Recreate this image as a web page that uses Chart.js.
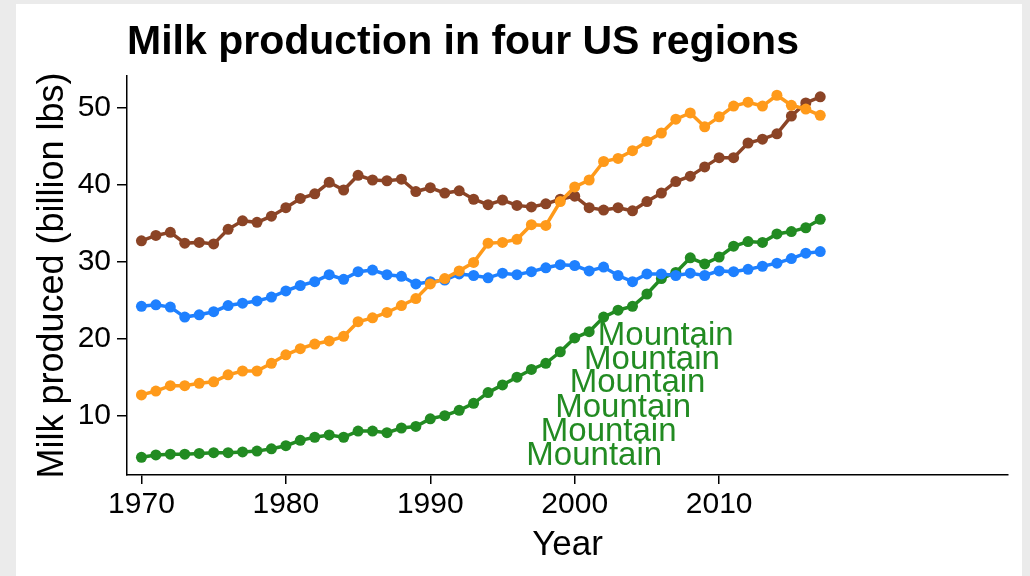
<!DOCTYPE html>
<html>
<head>
<meta charset="utf-8">
<script src="https://cdn.jsdelivr.net/npm/chart.js@4.4.1/dist/chart.umd.min.js"></script>
<style>
  html, body { margin: 0; padding: 0; background: #ebebeb; }
  #panel { position: absolute; left: 16px; top: 4px; width: 1006px; height: 572px; background: #fff; }
</style>
</head>
<body>
<div id="panel"><canvas id="mycanvas" width="1006" height="572"></canvas></div>
<script>
var years = [];
for (var yr = 1970; yr <= 2017; yr++) years.push(yr);

var lakeStates = [32.7, 33.4, 33.8, 32.4, 32.5, 32.3, 34.2, 35.3, 35.1, 35.9,
  37.0, 38.2, 38.8, 40.3, 39.3, 41.2, 40.6, 40.5, 40.7, 39.1,
  39.6, 38.9, 39.2, 38.1, 37.4, 38.0, 37.3, 37.1, 37.5, 38.1,
  38.5, 37.0, 36.7, 37.0, 36.6, 37.8, 38.9, 40.4, 41.1, 42.3,
  43.5, 43.5, 45.4, 45.9, 46.6, 48.9, 50.6, 51.4];
var northeast = [24.2, 24.4, 24.1, 22.8, 23.1, 23.5, 24.3, 24.6, 24.9, 25.4,
  26.2, 26.9, 27.4, 28.3, 27.7, 28.7, 28.9, 28.3, 28.1, 27.1,
  27.4, 27.6, 28.4, 28.2, 27.9, 28.5, 28.3, 28.7, 29.2, 29.6,
  29.5, 28.8, 29.3, 28.2, 27.4, 28.4, 28.4, 28.2, 28.5, 28.2,
  28.8, 28.7, 29.0, 29.4, 29.8, 30.4, 31.1, 31.3];
var pacific = [12.7, 13.2, 13.9, 13.9, 14.2, 14.4, 15.3, 15.8, 15.8, 16.8,
  17.9, 18.7, 19.3, 19.7, 20.3, 22.2, 22.7, 23.4, 24.3, 25.2,
  27.1, 27.8, 28.8, 29.9, 32.4, 32.5, 32.9, 34.8, 34.7, 37.8,
  39.7, 40.6, 43.0, 43.4, 44.4, 45.6, 46.7, 48.5, 49.3, 47.5,
  48.8, 50.2, 50.7, 50.2, 51.6, 50.3, 49.8, 49.0];
var mountain = [4.6, 4.9, 5.0, 5.0, 5.1, 5.2, 5.2, 5.3, 5.4, 5.7,
  6.1, 6.8, 7.2, 7.5, 7.2, 8.0, 8.0, 7.8, 8.4, 8.6,
  9.6, 10.0, 10.7, 11.6, 13.0, 14.0, 15.0, 16.0, 16.8, 18.3,
  20.1, 20.9, 22.8, 23.7, 24.2, 25.8, 27.8, 28.6, 30.5, 29.7,
  30.6, 32.0, 32.6, 32.5, 33.6, 33.9, 34.4, 35.5];

var xTicks = [1970, 1980, 1990, 2000, 2010];
var yTicks = [10, 20, 30, 40, 50];

// the repeated "Mountain" labels (centre year, centre value)
var labelYears = [2006.3, 2005.35, 2004.35, 2003.35, 2002.35, 2001.35];
var labelValues = [20.4, 17.3, 14.2, 11.05, 7.9, 4.8];

var titleText = 'Milk production in four US regions';
var fontFamily = '"Liberation Sans", Arial, Helvetica, sans-serif';

function series(label, values, color) {
  return {
    label: label,
    data: values.map(function(v, i) { return {x: years[i], y: v}; }),
    borderColor: color,
    backgroundColor: color,
    pointBackgroundColor: color,
    pointBorderWidth: 0,
    pointRadius: 5.5,
    borderWidth: 3.5,
    tension: 0
  };
}

var extras = {
  id: 'extras',
  afterDatasetsDraw: function(chart) {
    var ctx = chart.ctx;
    var xs = chart.scales.x, ys = chart.scales.y;
    ctx.save();
    ctx.font = '33px ' + fontFamily;
    ctx.fillStyle = '#228b22';
    ctx.textAlign = 'center';
    ctx.textBaseline = 'middle';
    for (var i = 0; i < labelYears.length; i++) {
      ctx.fillText('Mountain', xs.getPixelForValue(labelYears[i]), ys.getPixelForValue(labelValues[i]));
    }
    ctx.font = 'bold 41px ' + fontFamily;
    ctx.fillStyle = '#000';
    ctx.textAlign = 'left';
    ctx.textBaseline = 'alphabetic';
    ctx.fillText(titleText, chart.chartArea.left, 50);
    ctx.restore();
  }
};

var ctx = document.getElementById('mycanvas');
var chart = new Chart(ctx, {
  type: 'line',
  data: {
    datasets: [
      series('Pacific', pacific, '#ff9a1a'),
      series('Northeast', northeast, '#1e80ff'),
      series('Mountain', mountain, '#228b22'),
      series('Lake States', lakeStates, '#8b4426')
    ]
  },
  options: {
    responsive: false,
    devicePixelRatio: 1,
    animation: false,
    layout: { padding: { top: 72, right: 14, bottom: 0, left: 0 } },
    plugins: { legend: { display: false }, tooltip: { enabled: false }, title: { display: false } },
    scales: {
      x: {
        type: 'linear',
        min: 1969,
        max: 2030,
        afterFit: function(s) { s.height = 101; },
        afterBuildTicks: function(s) { s.ticks = xTicks.map(function(v) { return {value: v}; }); },
        grid: { drawOnChartArea: false, drawTicks: true, tickLength: 9, color: '#000', lineWidth: 1.5 },
        border: { display: true, color: '#000', width: 1.5 },
        ticks: {
          color: '#000', padding: 3, maxRotation: 0,
          font: { family: fontFamily, size: 30 },
          callback: function(v) { return String(v); }
        },
        title: {
          display: true, text: 'Year', color: '#000',
          font: { family: fontFamily, size: 35 },
          padding: { top: 0, bottom: 10 }
        }
      },
      y: {
        type: 'linear',
        min: 2.3,
        max: 54.1,
        afterFit: function(s) { s.width = 111; },
        afterBuildTicks: function(s) { s.ticks = yTicks.map(function(v) { return {value: v}; }); },
        grid: { drawOnChartArea: false, drawTicks: true, tickLength: 10, color: '#000', lineWidth: 1.5 },
        border: { display: true, color: '#000', width: 1.5 },
        ticks: {
          color: '#000', padding: 6,
          font: { family: fontFamily, size: 30 },
          callback: function(v) { return String(v); }
        },
        title: {
          display: true, text: 'Milk produced (billion lbs)', color: '#000',
          font: { family: fontFamily, size: 36 },
          padding: { top: 15, bottom: 0 }
        }
      }
    }
  },
  plugins: [extras]
});
</script>
</body>
</html>
